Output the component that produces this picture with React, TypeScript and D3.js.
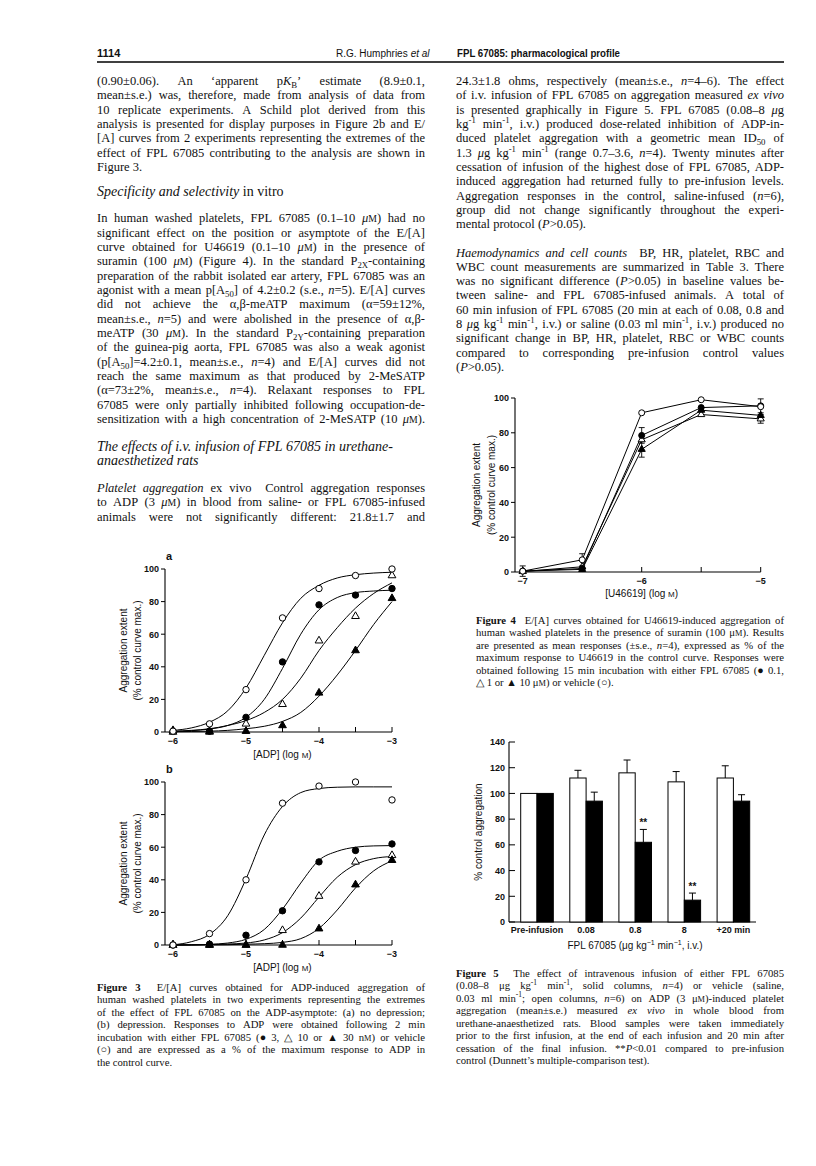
import React from 'react';
import * as d3 from 'd3';

const SANS = "'Liberation Sans', Arial, Helvetica, sans-serif";
const NARROW = "'Liberation Sans Narrow', 'Liberation Sans', Arial, sans-serif";
const SERIF = "'Liberation Serif', 'Times New Roman', serif";
const INK = '#111';

// ---------------- Figure 3 data ----------------
const adpLogConc = [-6, -5.5, -5, -4.5, -4, -3.5, -3];
const adpTickLabels = [-6, -5, -4, -3];
const fig3aVehicle = [0.5, 5, 26, 70, 88, 96, 100];
const fig3aFpl3 = [0.3, 0.5, 9, 43, 78, 84, 88];
const fig3aFpl10 = [0, 0, 5, 17, 56, 71, 96];
const fig3aFpl30 = [1, 0.5, 0.5, 4, 24, 50, 82];

const curveLogConc = [-6, -5.75, -5.5, -5.25, -5, -4.75, -4.5, -4.25, -4, -3.75, -3.5, -3.25, -3];
const fig3aCurveVehicle = [1, 2.5, 6, 13, 27, 47, 67, 82, 90, 94.5, 96.5, 97.5, 98];
const fig3aCurveFpl3 = [0.3, 0.8, 1.8, 4, 9, 20, 39, 60, 75, 82.5, 85.5, 86.5, 87];
const fig3aCurveFpl10 = [0.5, 1, 2, 4, 7, 12, 20, 33, 50, 64, 76, 85, 91.5];
const fig3aCurveFpl30 = [0.2, 0.3, 0.5, 1, 2, 3.5, 6.5, 12, 22, 35, 50, 66, 80];

const fig3bVehicle = [0, 7, 40, 87, 97.5, 100, 89];
const fig3bFpl3 = [0, 0.5, 6, 21, 51, 58, 62];
const fig3bFpl10 = [0, 0, 0, 9, 30, 51, 55];
const fig3bFpl30 = [0, 0, 0, 0, 10, 37, 52];
const fig3bCurveVehicle = [0.1, 2, 6.5, 18, 40.5, 67.5, 85, 93.5, 96, 96.8, 97, 97, 97];
const fig3bCurveFpl3 = [0, 0.1, 0.4, 1.2, 3.5, 9.5, 22, 38, 52, 57.5, 60, 60.8, 61];
const fig3bCurveFpl10 = [0, 0.1, 0.3, 0.6, 1.2, 3.1, 7.6, 16.5, 29.4, 41.6, 49.3, 53, 54.3];
const fig3bCurveFpl30 = [0, 0, 0.1, 0.2, 0.5, 0.8, 1.6, 3.9, 10.2, 21.5, 35, 45.5, 51.7];

const pctTicks = [0, 20, 40, 60, 80, 100];

// ---------------- Figure 4 data ----------------
const u46619LogConc = [-7, -6.5, -6, -5.5, -5];
const u46619TickLabels = [-7, -6, -5];
const fig4Vehicle = [0.5, 7, 91.5, 99, 95];
const fig4VehicleSE = [0, 3.5, 0, 0, 0];
const fig4Fpl01 = [0.5, 2, 78.5, 94.5, 95.5];
const fig4Fpl01SE = [0, 0, 4.5, 0, 4];
const fig4Fpl1 = [0.3, 3, 76, 90.5, 88];
const fig4Fpl1SE = [0, 0, 0, 0, 2.5];
const fig4Fpl10 = [0.5, 1.5, 70.5, 93, 90];
const fig4Fpl10SE = [3, 0, 4.5, 0, 0];

// ---------------- Figure 5 data ----------------
const fig5Groups = ['Pre-infusion', '0.08', '0.8', '8', '+20 min'];
const fig5Vehicle = [100, 112, 116, 109, 112];
const fig5VehicleSE = [0, 6, 10, 8, 9.5];
const fig5Fpl = [100, 94, 62, 17, 94];
const fig5FplSE = [0, 7, 10, 5.5, 5];
const fig5Sig = ['', '', '**', '**', ''];
const fig5Ticks = [0, 20, 40, 60, 80, 100, 120, 140];

// ---------------- Text ----------------
const leftPara1 = [
  '(0.90±0.06). An ‘apparent p«K»_{B}’ estimate (8.9±0.1,',
  'mean±s.e.) was, therefore, made from analysis of data from',
  '10 replicate experiments. A Schild plot derived from this',
  'analysis is presented for display purposes in Figure 2b and E/',
  '[A] curves from 2 experiments representing the extremes of the',
  'effect of FPL 67085 contributing to the analysis are shown in',
  'Figure 3.',
];
const leftHeading1 = ['«Specificity and selectivity» in vitro'];
const leftPara2 = [
  'In human washed platelets, FPL 67085 (0.1–10 «μ»~M) had no',
  'significant effect on the position or asymptote of the E/[A]',
  'curve obtained for U46619 (0.1–10 «μ»~M) in the presence of',
  'suramin (100 «μ»~M) (Figure 4). In the standard P_{2X}-containing',
  'preparation of the rabbit isolated ear artery, FPL 67085 was an',
  'agonist with a mean p[A_{50}] of 4.2±0.2 (s.e., «n»=5). E/[A] curves',
  'did not achieve the α,β-meATP maximum (α=59±12%,',
  'mean±s.e., «n»=5) and were abolished in the presence of α,β-',
  'meATP (30 «μ»~M). In the standard P_{2Y}-containing preparation',
  'of the guinea-pig aorta, FPL 67085 was also a weak agonist',
  '(p[A_{50}]=4.2±0.1, mean±s.e., «n»=4) and E/[A] curves did not',
  'reach the same maximum as that produced by 2-MeSATP',
  '(α=73±2%, mean±s.e., «n»=4). Relaxant responses to FPL',
  '67085 were only partially inhibited following occupation-de-',
  'sensitization with a high concentration of 2-MeSATP (10 «μ»~M).',
];
const leftHeading2 = [
  '«The effects of i.v. infusion of FPL 67085 in urethane-»',
  '«anaesthetized rats»',
];
const leftPara3 = [
  '«Platelet aggregation» ex vivo  Control aggregation responses',
  'to ADP (3 «μ»~M) in blood from saline- or FPL 67085-infused',
  'animals were not significantly different: 21.8±1.7 and',
];
const rightPara1 = [
  '24.3±1.8 ohms, respectively (mean±s.e., «n»=4–6). The effect',
  'of i.v. infusion of FPL 67085 on aggregation measured «ex vivo»',
  'is presented graphically in Figure 5. FPL 67085 (0.08–8 «μ»g',
  'kg^{-1} min^{-1}, i.v.) produced dose-related inhibition of ADP-in-',
  'duced platelet aggregation with a geometric mean ID_{50} of',
  '1.3 «μ»g kg^{-1} min^{-1} (range 0.7–3.6, «n»=4). Twenty minutes after',
  'cessation of infusion of the highest dose of FPL 67085, ADP-',
  'induced aggregation had returned fully to pre-infusion levels.',
  'Aggregation responses in the control, saline-infused («n»=6),',
  'group did not change significantly throughout the experi-',
  'mental protocol («P»>0.05).',
];
const rightPara2 = [
  '«Haemodynamics and cell counts»  BP, HR, platelet, RBC and',
  'WBC count measurements are summarized in Table 3. There',
  'was no significant difference («P»>0.05) in baseline values be-',
  'tween saline- and FPL 67085-infused animals. A total of',
  '60 min infusion of FPL 67085 (20 min at each of 0.08, 0.8 and',
  '8 «μ»g kg^{-1} min^{-1}, i.v.) or saline (0.03 ml min^{-1}, i.v.) produced no',
  'significant change in BP, HR, platelet, RBC or WBC counts',
  'compared to corresponding pre-infusion control values',
  '(«P»>0.05).',
];
const fig3Caption = [
  '‹Figure 3›  E/[A] curves obtained for ADP-induced aggregation of',
  'human washed platelets in two experiments representing the extremes',
  'of the effect of FPL 67085 on the ADP-asymptote: (a) no depression;',
  '(b) depression. Responses to ADP were obtained following 2 min',
  'incubation with either FPL 67085 (● 3, △ 10 or ▲ 30 n~M) or vehicle',
  '(○) and are expressed as a % of the maximum response to ADP in',
  'the control curve.',
];
const fig4Caption = [
  '‹Figure 4›  E/[A] curves obtained for U46619-induced aggregation of',
  'human washed platelets in the presence of suramin (100 μ~M). Results',
  'are presented as mean responses (±s.e., «n»=4), expressed as % of the',
  'maximum response to U46619 in the control curve. Responses were',
  'obtained following 15 min incubation with either FPL 67085 (● 0.1,',
  '△ 1 or ▲ 10 μ~M) or vehicle (○).',
];
const fig5Caption = [
  '‹Figure 5›  The effect of intravenous infusion of either FPL 67085',
  '(0.08–8 μg kg^{-1} min^{-1}, solid columns, «n»=4) or vehicle (saline,',
  '0.03 ml min^{-1}; open columns, «n»=6) on ADP (3 μ~M)-induced platelet',
  'aggregation (mean±s.e.) measured «ex vivo» in whole blood from',
  'urethane-anaesthetized rats. Blood samples were taken immediately',
  'prior to the first infusion, at the end of each infusion and 20 min after',
  'cessation of the final infusion. **«P»<0.01 compared to pre-infusion',
  'control (Dunnett’s multiple-comparison test).',
];

type Seg = { t: string; i: boolean; b: boolean; sub: boolean; sup: boolean; sc: boolean };
function parse(s: string): Seg[] {
  const out: Seg[] = [];
  let it = false, bd = false, buf = '';
  const flush = () => {
    if (buf) { out.push({ t: buf, i: it, b: bd, sub: false, sup: false, sc: false }); buf = ''; }
  };
  for (let k = 0; k < s.length; k++) {
    const c = s[k];
    if (c === '«' || c === '»') { flush(); it = c === '«'; continue; }
    if (c === '‹' || c === '›') { flush(); bd = c === '‹'; continue; }
    if ((c === '_' || c === '^') && s[k + 1] === '{') {
      flush();
      const end = s.indexOf('}', k);
      out.push({ t: s.slice(k + 2, end), i: it, b: bd, sub: c === '_', sup: c === '^', sc: false });
      k = end;
      continue;
    }
    if (c === '~') { flush(); out.push({ t: s[k + 1], i: it, b: bd, sub: false, sup: false, sc: true }); k++; continue; }
    buf += c;
  }
  flush();
  return out;
}

let measureCtx: CanvasRenderingContext2D | null = null;
function measure(t: string, size: number, family: string, italic: boolean, bold: boolean): number {
  if (!measureCtx) measureCtx = document.createElement('canvas').getContext('2d');
  if (!measureCtx) return t.length * size * 0.45;
  measureCtx.font = `${italic ? 'italic ' : ''}${bold ? 'bold ' : ''}${size}px ${family}`;
  return measureCtx.measureText(t).width;
}

function segSize(g: Seg, size: number) {
  if (g.sub || g.sup) return size * 0.7;
  if (g.sc) return size * 0.78;
  return size;
}

function RichLine(props: { x: number; y: number; s: string; size: number; family?: string; w?: number }) {
  const { x, y, s, size, family = SERIF, w } = props;
  const segs = parse(s);
  const words: Seg[][] = [[]];
  segs.forEach(g => {
    g.t.split(' ').forEach((p, idx) => {
      if (idx > 0) words.push([]);
      if (p) words[words.length - 1].push({ ...g, t: p });
    });
  });
  const widths = words.map(wd => wd.reduce((acc, g) => acc + measure(g.t, segSize(g, size), family, g.i, g.b), 0));
  const total = widths.reduce((a, b) => a + b, 0);
  const space = measure(' ', size, family, false, false);
  let gap = space;
  if (w && words.length > 1) {
    gap = Math.max(space * 0.45, (w - total) / (words.length - 1));
  }
  let shift = 0;
  let cx = x;
  const kids: React.ReactNode[] = [];
  words.forEach((wd, wi) => {
    wd.forEach((g, gi) => {
      let target = 0;
      if (g.sub) target = size * 0.25;
      else if (g.sup) target = -size * 0.4;
      const dy = target - shift;
      shift = target;
      kids.push(
        <tspan key={`${wi}-${gi}`} x={gi === 0 ? cx : undefined} dy={dy !== 0 ? dy : undefined}
          fontSize={segSize(g, size)} fontStyle={g.i ? 'italic' : undefined} fontWeight={g.b ? 'bold' : undefined}>{g.t}</tspan>
      );
    });
    cx += widths[wi] + gap;
  });
  return (
    <text x={x} y={y} fontFamily={family} fontSize={size} fill={INK}>{kids}</text>
  );
}

function Para(props: { x: number; y: number; w: number; lines: string[]; size: number; lead: number; justifyLast?: boolean; noJustify?: boolean }) {
  const { x, y, w, lines, size, lead, justifyLast, noJustify } = props;
  return (
    <g>
      {lines.map((s, k) => (
        <RichLine key={k} x={x} y={y + k * lead} s={s} size={size}
          w={!noJustify && (k < lines.length - 1 || justifyLast) ? w : undefined} />
      ))}
    </g>
  );
}

type MarkerKind = 'oc' | 'fc' | 'ot' | 'ft';
function Marker({ kind, x, y, r, tri }: { kind: MarkerKind; x: number; y: number; r: number; tri: number }) {
  if (kind === 'oc') return <circle cx={x} cy={y} r={r} fill="#fff" stroke="#000" strokeWidth={1} />;
  if (kind === 'fc') return <circle cx={x} cy={y} r={r} fill="#000" stroke="#000" strokeWidth={1} />;
  const p = d3.symbol().type(d3.symbolTriangle).size(tri)() as string;
  return <path d={p} transform={`translate(${x},${y})`} fill={kind === 'ft' ? '#000' : '#fff'} stroke="#000" strokeWidth={1} />;
}

function YLabel({ cx, cy, lines, size }: { cx: number; cy: number; lines: string[]; size: number }) {
  return (
    <g>
      {lines.map((s, k) => {
        const bx = cx + k * 14.5 + size * 0.36;
        return (
          <text key={k} x={0} y={0} transform={`translate(${bx},${cy}) rotate(-90)`} textAnchor="middle"
            fontFamily={SANS} fontSize={size} fill={INK}>{s}</text>
        );
      })}
    </g>
  );
}

function Fig3Panel({ yTop, yBottom, label, series, curves }: {
  yTop: number; yBottom: number; label: string;
  series: { kind: MarkerKind; values: number[] }[]; curves: number[][];
}) {
  const x = d3.scaleLinear().domain([-6, -3]).range([173, 392]);
  const y = d3.scaleLinear().domain([0, 100]).range([yBottom, yTop]);
  const ax = 165;
  const line = d3.line<[number, number]>().x(d => x(d[0])).y(d => y(d[1])).curve(d3.curveMonotoneX);
  return (
    <g>
      <text x={166} y={yTop - 9} fontFamily={SANS} fontWeight="bold" fontSize={11} fill={INK}>{label}</text>
      <line x1={ax} x2={ax} y1={y(0)} y2={y(100)} stroke="#000" strokeWidth={1.1} />
      <line x1={ax} x2={x(-3)} y1={y(0)} y2={y(0)} stroke="#000" strokeWidth={1.1} />
      {pctTicks.map(t => (
        <g key={t}>
          <line x1={ax - 4} x2={ax} y1={y(t)} y2={y(t)} stroke="#000" strokeWidth={1} />
          <text x={ax - 6} y={y(t) + 3.3} textAnchor="end" fontFamily={SANS} fontWeight="bold" fontSize={9} fill={INK}>{t}</text>
        </g>
      ))}
      {adpLogConc.map(t => (
        <line key={t} x1={x(t)} x2={x(t)} y1={y(0)} y2={y(0) - 5} stroke="#000" strokeWidth={1} />
      ))}
      {adpTickLabels.map(t => (
        <text key={t} x={x(t)} y={y(0) + 12} textAnchor="middle" fontFamily={SANS} fontWeight="bold" fontSize={9} fill={INK}>{`−${Math.abs(t)}`}</text>
      ))}
      <text x={x(-4.5)} y={y(0) + 26} textAnchor="middle" fontFamily={SANS} fontSize={10} fill={INK}>
        [ADP] (log <tspan fontSize={8}>M</tspan>)
      </text>
      <YLabel cx={123} cy={(yTop + yBottom) / 2} lines={['Aggregation extent', '(% control curve max.)']} size={10} />
      {curves.map((c, k) => (
        <path key={k} d={line(curveLogConc.map((v, i) => [v, c[i]] as [number, number])) as string} fill="none" stroke="#000" strokeWidth={1} />
      ))}
      {series.map((s, k) => (
        <g key={k}>
          {s.values.map((v, i) => (
            <Marker key={i} kind={s.kind} x={x(adpLogConc[i])} y={y(v)} r={3.2} tri={26} />
          ))}
        </g>
      ))}
    </g>
  );
}

function Fig4() {
  const x = d3.scaleLinear().domain([-7, -5]).range([522.7, 760.7]);
  const y = d3.scaleLinear().domain([0, 100]).range([572, 398]);
  const ax = 515;
  const line = d3.line<[number, number]>().x(d => x(d[0])).y(d => y(d[1]));
  const series: { kind: MarkerKind; values: number[]; se: number[] }[] = [
    { kind: 'ot', values: fig4Fpl1, se: fig4Fpl1SE },
    { kind: 'ft', values: fig4Fpl10, se: fig4Fpl10SE },
    { kind: 'fc', values: fig4Fpl01, se: fig4Fpl01SE },
    { kind: 'oc', values: fig4Vehicle, se: fig4VehicleSE },
  ];
  return (
    <g>
      <line x1={ax} x2={ax} y1={y(0)} y2={y(100)} stroke="#000" strokeWidth={1.1} />
      <line x1={ax} x2={x(-5)} y1={y(0)} y2={y(0)} stroke="#000" strokeWidth={1.1} />
      {pctTicks.map(t => (
        <g key={t}>
          <line x1={ax - 4} x2={ax} y1={y(t)} y2={y(t)} stroke="#000" strokeWidth={1} />
          <text x={ax - 6} y={y(t) + 3.3} textAnchor="end" fontFamily={SANS} fontWeight="bold" fontSize={9} fill={INK}>{t}</text>
        </g>
      ))}
      {u46619LogConc.map(t => (
        <line key={t} x1={x(t)} x2={x(t)} y1={y(0)} y2={y(0) - 5} stroke="#000" strokeWidth={1} />
      ))}
      {u46619TickLabels.map(t => (
        <text key={t} x={x(t)} y={y(0) + 12} textAnchor="middle" fontFamily={SANS} fontWeight="bold" fontSize={9} fill={INK}>{`−${Math.abs(t)}`}</text>
      ))}
      <text x={x(-6)} y={y(0) + 25} textAnchor="middle" fontFamily={SANS} fontSize={10} fill={INK}>
        [U46619] (log <tspan fontSize={8}>M</tspan>)
      </text>
      <YLabel cx={476.7} cy={(y(0) + y(100)) / 2} lines={['Aggregation extent', '(% control curve max.)']} size={10} />
      {series.map((s, k) => (
        <path key={k} d={line(u46619LogConc.map((v, i) => [v, s.values[i]] as [number, number])) as string} fill="none" stroke="#000" strokeWidth={1} />
      ))}
      {series.map((s, k) => (
        <g key={'e' + k}>
          {s.se.map((e, i) => e > 0 ? (
            <g key={i}>
              <line x1={x(u46619LogConc[i])} x2={x(u46619LogConc[i])} y1={y(s.values[i] - e)} y2={y(s.values[i] + e)} stroke="#000" strokeWidth={0.9} />
              <line x1={x(u46619LogConc[i]) - 3} x2={x(u46619LogConc[i]) + 3} y1={y(s.values[i] + e)} y2={y(s.values[i] + e)} stroke="#000" strokeWidth={0.9} />
              <line x1={x(u46619LogConc[i]) - 3} x2={x(u46619LogConc[i]) + 3} y1={y(s.values[i] - e)} y2={y(s.values[i] - e)} stroke="#000" strokeWidth={0.9} />
            </g>
          ) : null)}
        </g>
      ))}
      {series.map((s, k) => (
        <g key={'m' + k}>
          {s.values.map((v, i) => (
            <Marker key={i} kind={s.kind} x={x(u46619LogConc[i])} y={y(v)} r={3} tri={22} />
          ))}
        </g>
      ))}
    </g>
  );
}

function Fig5() {
  const xb = d3.scaleBand<string>().domain(fig5Groups).range([520.7, 749.7]).paddingInner(0.336);
  const xs = d3.scaleBand<string>().domain(['vehicle', 'fpl']).range([0, xb.bandwidth()]);
  const y = d3.scaleLinear().domain([0, 140]).range([922, 742]);
  const ax = 509;
  const bw = xs.bandwidth();
  const errBar = (cx: number, v: number, e: number, key: string) => e > 0 ? (
    <g key={key}>
      <line x1={cx} x2={cx} y1={y(v)} y2={y(v + e)} stroke="#000" strokeWidth={1} />
      <line x1={cx - 3.5} x2={cx + 3.5} y1={y(v + e)} y2={y(v + e)} stroke="#000" strokeWidth={1} />
    </g>
  ) : null;
  return (
    <g>
      <line x1={ax} x2={ax} y1={y(0)} y2={y(140)} stroke="#000" strokeWidth={1.1} />
      <line x1={ax} x2={756} y1={y(0)} y2={y(0)} stroke="#000" strokeWidth={1.1} />
      {fig5Ticks.map(t => (
        <g key={t}>
          <line x1={ax} x2={ax + 6} y1={y(t)} y2={y(t)} stroke="#000" strokeWidth={1} />
          <text x={ax - 4} y={y(t) + 3.3} textAnchor="end" fontFamily={SANS} fontWeight="bold" fontSize={9} fill={INK}>{t}</text>
        </g>
      ))}
      {fig5Groups.map((g, i) => {
        const x0 = xb(g) as number;
        const xv = x0 + (xs('vehicle') as number);
        const xf = x0 + (xs('fpl') as number);
        return (
          <g key={g}>
            <rect x={xv} y={y(fig5Vehicle[i])} width={bw} height={y(0) - y(fig5Vehicle[i])} fill="#fff" stroke="#000" strokeWidth={1} />
            <rect x={xf} y={y(fig5Fpl[i])} width={bw} height={y(0) - y(fig5Fpl[i])} fill="#000" stroke="#000" strokeWidth={1} />
            {errBar(xv + bw / 2, fig5Vehicle[i], fig5VehicleSE[i], 'v')}
            {errBar(xf + bw / 2, fig5Fpl[i], fig5FplSE[i], 'f')}
            {fig5Sig[i] ? (
              <text x={xf + bw / 2} y={y(fig5Fpl[i] + fig5FplSE[i]) - 3} textAnchor="middle" fontFamily={SANS} fontWeight="bold" fontSize={10} fill={INK}>{fig5Sig[i]}</text>
            ) : null}
            <text x={x0 + xb.bandwidth() / 2} y={y(0) + 10.5} textAnchor="middle" fontFamily={SANS} fontWeight="bold" fontSize={9} fill={INK}>{g}</text>
          </g>
        );
      })}
      <text x={635} y={948.5} textAnchor="middle" fontFamily={SANS} fontSize={10} fill={INK}>
        FPL 67085 (μg kg<tspan dy={-4} fontSize={7}>−1</tspan><tspan dy={4}> min</tspan><tspan dy={-4} fontSize={7}>−1</tspan><tspan dy={4}>, i.v.)</tspan>
      </text>
      <YLabel cx={478} cy={(y(0) + y(140)) / 2} lines={['% control aggregation']} size={10} />
    </g>
  );
}

function RunningHeader() {
  const authorW = measure('R.G. Humphries', 10, SANS, false, false);
  return (
    <g>
      <text x={97} y={57} fontFamily={SANS} fontWeight="bold" fontSize={11} fill={INK}>1114</text>
      <text x={336} y={57} fontFamily={SANS} fontSize={10} fill={INK}>R.G. Humphries</text>
      <text x={336 + authorW + 3} y={57} fontFamily={SANS} fontStyle="italic" fontSize={10} fill={INK}>et al</text>
      <text x={457} y={57} fontFamily={NARROW} fontWeight="bold" fontSize={11} fill={INK} textLength={163} lengthAdjust="spacingAndGlyphs">
        FPL 67085: pharmacological profile
      </text>
      <line x1={97} x2={784} y1={62} y2={62} stroke="#000" strokeWidth={1.5} />
    </g>
  );
}

export default function App() {
  const BODY = 12.5;
  const LEAD = 14.33;
  const CAP = 10.7;
  const CLEAD = 12.5;
  const LX = 97, RX = 456, CW = 328;
  return (
    <svg width={816} height={1166} viewBox="0 0 816 1166" style={{ position: 'absolute', left: 0, top: 0, background: '#fff' }}>
      <rect x={0} y={0} width={816} height={1166} fill="#fff" />
      <RunningHeader />

      {/* left column */}
      <Para x={LX} y={85} w={CW} lines={leftPara1} size={BODY} lead={LEAD} />
      <RichLine x={LX} y={195.5} s={leftHeading1[0]} size={14} />
      <Para x={LX} y={222.3} w={CW} lines={leftPara2} size={BODY} lead={LEAD} justifyLast />
      <Para x={LX} y={450.5} w={CW} lines={leftHeading2} size={14} lead={14.5} noJustify />
      <Para x={LX} y={492} w={CW} lines={leftPara3} size={BODY} lead={LEAD} justifyLast />

      {/* right column */}
      <Para x={RX} y={85} w={CW} lines={rightPara1} size={BODY} lead={LEAD} />
      <Para x={RX} y={256.5} w={CW} lines={rightPara2} size={BODY} lead={LEAD} />

      {/* Figure 3 */}
      <Fig3Panel yTop={569} yBottom={732} label="a"
        series={[
          { kind: 'ot', values: fig3aFpl10 },
          { kind: 'ft', values: fig3aFpl30 },
          { kind: 'fc', values: fig3aFpl3 },
          { kind: 'oc', values: fig3aVehicle },
        ]}
        curves={[fig3aCurveVehicle, fig3aCurveFpl3, fig3aCurveFpl10, fig3aCurveFpl30]} />
      <Fig3Panel yTop={782} yBottom={945} label="b"
        series={[
          { kind: 'ot', values: fig3bFpl10 },
          { kind: 'ft', values: fig3bFpl30 },
          { kind: 'fc', values: fig3bFpl3 },
          { kind: 'oc', values: fig3bVehicle },
        ]}
        curves={[fig3bCurveVehicle, fig3bCurveFpl3, fig3bCurveFpl10, fig3bCurveFpl30]} />
      <Para x={LX} y={990.5} w={CW} lines={fig3Caption} size={CAP} lead={CLEAD} />

      {/* Figure 4 */}
      <Fig4 />
      <Para x={476} y={623.7} w={308} lines={fig4Caption} size={CAP} lead={CLEAD} />

      {/* Figure 5 */}
      <Fig5 />
      <Para x={RX} y={976.7} w={CW} lines={fig5Caption} size={CAP} lead={CLEAD} />
    </svg>
  );
}
